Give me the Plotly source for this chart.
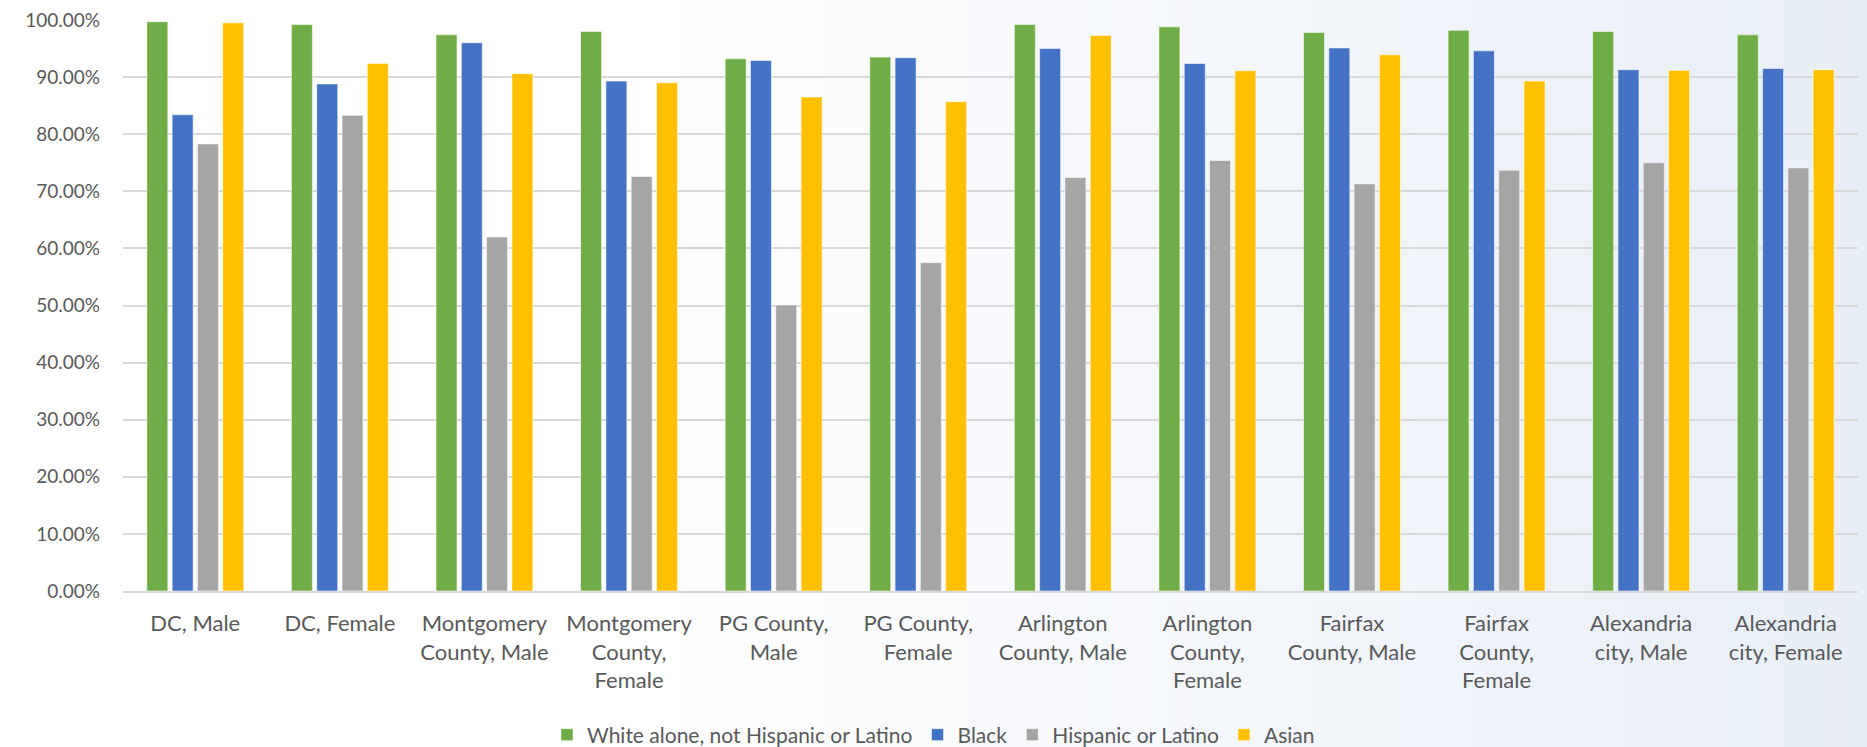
import plotly.graph_objects as go

# Categories (county / sex) and share per group, as fractions
categories = [
    "DC, Male", "DC, Female",
    "Montgomery<br>County, Male", "Montgomery<br>County,<br>Female",
    "PG County,<br>Male", "PG County,<br>Female",
    "Arlington<br>County, Male", "Arlington<br>County,<br>Female",
    "Fairfax<br>County, Male", "Fairfax<br>County,<br>Female",
    "Alexandria<br>city, Male", "Alexandria<br>city, Female",
]

white_non_hispanic = [0.997, 0.992, 0.974, 0.980, 0.932, 0.935, 0.992, 0.988, 0.978, 0.982, 0.980, 0.974]
black = [0.834, 0.888, 0.960, 0.893, 0.929, 0.934, 0.950, 0.924, 0.951, 0.946, 0.913, 0.915]
hispanic_latino = [0.783, 0.833, 0.620, 0.726, 0.501, 0.575, 0.724, 0.754, 0.713, 0.737, 0.750, 0.741]
asian = [0.995, 0.924, 0.906, 0.890, 0.865, 0.857, 0.973, 0.911, 0.939, 0.893, 0.912, 0.913]

y_ticks = [i / 10 for i in range(11)]

series = [
    ("White alone, not Hispanic or Latino", white_non_hispanic, "#70AD47"),
    ("Black", black, "#4472C4"),
    ("Hispanic or Latino", hispanic_latino, "#A5A5A5"),
    ("Asian", asian, "#FFC000"),
]

W, H = 1867, 747
M_L, M_R, M_T, M_B = 123, 9, 20, 156
plot_w = W - M_L - M_R
plot_h = H - M_T - M_B

FONT = "Lato, 'Liberation Sans', sans-serif"
TXT = "#595959"

fig = go.Figure()
for name, vals, color in series:
    fig.add_trace(go.Bar(
        x=list(range(len(categories))), y=vals, name=name,
        marker=dict(color=color, line=dict(color="rgba(255,255,255,0.55)", width=1)),
    ))

# Soft horizontal background gradient: white on the left, pale blue on the right
shapes = []
start_px, n_strips = 640, 60
c0, c1 = (255, 255, 255), (232, 238, 247)
step = (W - start_px) / n_strips
for i in range(n_strips):
    x0_px = start_px + i * step
    x1_px = x0_px + step + 1
    t = (i + 0.5) / n_strips
    r, g, b = (round(c0[k] + (c1[k] - c0[k]) * t) for k in range(3))
    shapes.append(dict(
        type="rect", xref="paper", yref="paper", layer="below",
        x0=(x0_px - M_L) / plot_w, x1=(x1_px - M_L) / plot_w,
        y0=-M_B / plot_h, y1=1 + M_T / plot_h,
        fillcolor=f"rgb({r},{g},{b})", line=dict(width=0),
    ))

fig.update_layout(
    width=W, height=H,
    margin=dict(l=M_L, r=M_R, t=M_T, b=M_B, pad=0, autoexpand=False),
    paper_bgcolor="white", plot_bgcolor="rgba(0,0,0,0)",
    barmode="group", bargap=0.3, bargroupgap=0.17,
    font=dict(family=FONT, size=22, color=TXT),
    shapes=shapes,
    showlegend=True,
    legend=dict(
        orientation="h", xref="container", yref="container",
        x=0.5, xanchor="center", y=12 / H, yanchor="middle",
        font=dict(family=FONT, size=21, color=TXT),
        itemwidth=30, bgcolor="rgba(0,0,0,0)",
    ),
    xaxis=dict(
        tickmode="array", tickvals=list(range(len(categories))), ticktext=categories,
        range=[-0.5, len(categories) - 0.5],
        showgrid=False, zeroline=False, showline=True, linecolor="#D9D9D9", linewidth=1.5,
        ticks="", ticklabelstandoff=12, tickfont=dict(family=FONT, size=22, color=TXT),
    ),
    yaxis=dict(
        range=[0, 1.0], tickvals=y_ticks, tickformat=".2%",
        showgrid=True, gridcolor="#D9D9D9", gridwidth=1.5,
        zeroline=False, showline=False, ticks="", ticklabelstandoff=22,
        tickfont=dict(family=FONT, size=19, color=TXT),
    ),
)

fig.write_html("out.html")
